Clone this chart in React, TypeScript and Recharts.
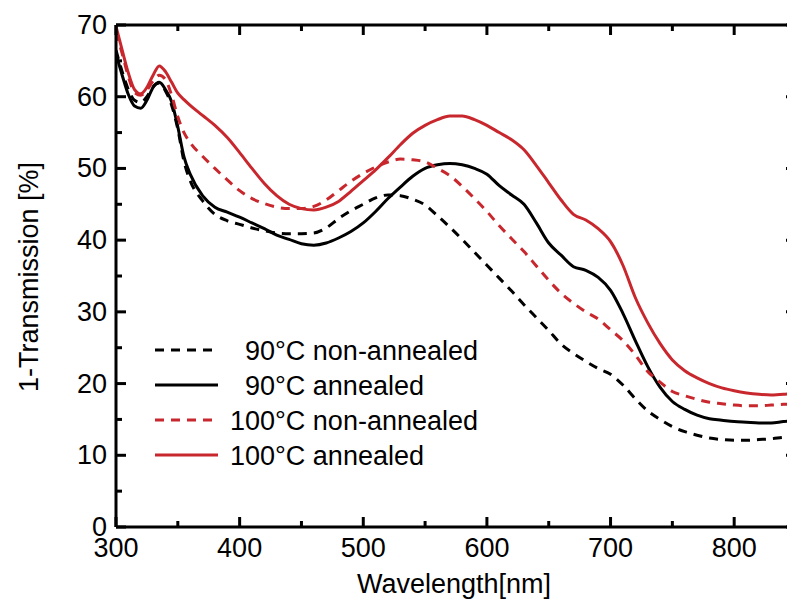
import React from 'react';
import { LineChart, Line, XAxis, YAxis, Legend } from 'recharts';

const FONT = "'Liberation Sans', Arial, sans-serif";
const RED = '#C8282D';

// wavelength grid (nm)
const wavelength = [
  300, 305, 310, 315, 320, 325, 330, 335, 340, 345, 350, 355,
  360, 370, 380, 390, 400, 410, 420, 430, 440, 450,
  460, 470, 480, 490, 500, 510, 520, 530, 540, 550,
  560, 570, 580, 590, 600, 610, 620, 630, 640, 650,
  660, 670, 680, 690, 700, 710, 720, 730, 740, 750,
  760, 770, 780, 790, 800, 810, 820, 830, 840, 850,
];

const nonAnnealed90 = [
  66.5, 63.5, 61.0, 59.5, 59.2, 60.0, 61.4, 61.9, 60.8, 58.8, 55.5, 51.0,
  48.3, 45.5, 43.6, 42.7, 42.2, 41.7, 41.3, 41.0, 40.9, 40.9,
  41.0, 41.7, 43.0, 44.1, 45.0, 45.9, 46.3, 46.2, 45.7, 44.9,
  43.4, 41.8, 40.1, 38.3, 36.5, 34.7, 32.9, 31.0, 29.2, 27.4,
  25.5, 24.2, 23.1, 22.1, 21.3, 19.8, 17.9, 16.2, 15.0, 14.0,
  13.3, 12.8, 12.4, 12.2, 12.1, 12.1, 12.2, 12.3, 12.5, 12.6,
];

const annealed90 = [
  66.0, 63.0, 60.3, 58.7, 58.4, 59.5, 61.3, 62.0, 61.0, 59.3, 55.8, 51.6,
  49.2, 46.2, 44.6, 43.9, 43.2, 42.4, 41.6, 40.7, 40.1, 39.5,
  39.3, 39.6, 40.3, 41.2, 42.4, 44.0, 45.8, 47.4, 48.9, 50.0,
  50.5, 50.7, 50.5, 50.0, 49.2, 47.6, 46.3, 45.0, 42.4, 39.6,
  37.9, 36.3, 35.8, 34.8, 33.0, 29.8, 26.0, 22.4, 19.5, 17.5,
  16.4, 15.6, 15.1, 14.9, 14.7, 14.6, 14.5, 14.5, 14.7, 14.8,
];

const nonAnnealed100 = [
  69.0, 66.0, 62.8, 60.6, 60.2, 60.9, 62.2, 63.0, 62.4, 60.2, 57.2, 55.0,
  53.6, 51.7, 50.0, 48.4, 46.9, 45.8, 45.1, 44.6, 44.4, 44.4,
  44.7, 45.6, 46.9, 48.2, 49.3, 50.2, 50.9, 51.3, 51.2, 50.9,
  50.0, 49.0, 47.5, 45.8, 44.0, 42.0, 40.2, 38.4, 36.4, 34.4,
  32.6, 31.2, 30.0, 29.0, 27.5, 26.0, 24.0, 21.7, 20.2, 18.9,
  18.3, 17.8, 17.4, 17.2, 17.0, 16.9, 16.9, 17.0, 17.1, 17.2,
];

const annealed100 = [
  69.8, 66.5, 63.3, 61.0, 60.4, 61.3, 63.0, 64.3, 63.5, 62.0, 60.5, 59.6,
  58.8, 57.4, 56.0, 54.3, 52.2, 50.0, 47.9, 46.2, 45.0, 44.4,
  44.2, 44.6, 45.4, 46.8, 48.3, 49.8, 51.5, 53.3, 54.9, 56.0,
  56.8, 57.3, 57.3, 56.8, 56.0, 55.0, 54.0, 52.6, 50.4, 48.0,
  45.6, 43.6, 42.8, 41.6, 39.8, 36.5, 32.0, 28.5, 25.6, 23.3,
  21.8, 20.8, 20.0, 19.4, 19.0, 18.7, 18.5, 18.4, 18.5, 18.7,
];

const xTicks = [300, 350, 400, 450, 500, 550, 600, 650, 700, 750, 800, 850];
const yTicks = [0, 5, 10, 15, 20, 25, 30, 35, 40, 45, 50, 55, 60, 65, 70];

const seriesInfo = [
  { key: 'na90', name: '90°C non-annealed', color: '#000', dash: '9 7', textX: 95 },
  { key: 'a90', name: '90°C annealed', color: '#000', dash: undefined, textX: 95 },
  { key: 'na100', name: '100°C non-annealed', color: RED, dash: '9 7', textX: 80 },
  { key: 'a100', name: '100°C annealed', color: RED, dash: undefined, textX: 80 },
];

const data = wavelength.map((w, i) => ({
  w,
  na90: nonAnnealed90[i],
  a90: annealed90[i],
  na100: nonAnnealed100[i],
  a100: annealed100[i],
}));

const BottomTick = (props: any) => {
  const { x, y, payload } = props;
  const major = payload.value % 100 === 0;
  return (
    <g>
      <line x1={x} x2={x} y1={y} y2={y - (major ? 10 : 6)} stroke="#000" strokeWidth={3} />
      {major && payload.value < 850 && (
        <text x={x} y={y + 30} textAnchor="middle" fontSize={27} fontFamily={FONT} fill="#000">
          {payload.value}
        </text>
      )}
    </g>
  );
};

const TopTick = (props: any) => {
  const { x, y, payload } = props;
  const major = payload.value % 100 === 0;
  return <line x1={x} x2={x} y1={y} y2={y + (major ? 10 : 6)} stroke="#000" strokeWidth={3} />;
};

const LeftTick = (props: any) => {
  const { x, y, payload } = props;
  const major = payload.value % 10 === 0;
  return (
    <g>
      <line x1={x} x2={x + (major ? 10 : 6)} y1={y} y2={y} stroke="#000" strokeWidth={3} />
      {major && (
        <text x={x - 9} y={y + 9} textAnchor="end" fontSize={27} fontFamily={FONT} fill="#000">
          {payload.value}
        </text>
      )}
    </g>
  );
};

const RightTick = (props: any) => {
  const { x, y, payload } = props;
  const major = payload.value % 10 === 0;
  return <line x1={x} x2={x - (major ? 10 : 6)} y1={y} y2={y} stroke="#000" strokeWidth={3} />;
};

const XTitle = () => (
  <text x={454} y={593} textAnchor="middle" fontSize={27} fontFamily={FONT} fill="#000">
    Wavelength[nm]
  </text>
);

const YTitle = () => (
  <text
    x={38}
    y={277}
    textAnchor="middle"
    fontSize={27}
    fontFamily={FONT}
    fill="#000"
    transform="rotate(-90 38 277)"
  >
    1-Transmission [%]
  </text>
);

const renderLegend = () => (
  <svg width={370} height={145}>
    {seriesInfo.map((s, i) => {
      const cy = 20 + i * 35;
      return (
        <g key={s.key}>
          <line x1={5} x2={68} y1={cy} y2={cy} stroke={s.color} strokeWidth={3} strokeDasharray={s.dash} />
          <text x={s.textX} y={cy + 10} fontSize={27} fontFamily={FONT} fill="#000">
            {s.name}
          </text>
        </g>
      );
    })}
  </svg>
);

const App = () => {
  return (
    <div style={{ position: 'fixed', left: 0, top: 0, width: 787, height: 613, overflow: 'hidden', background: '#fff' }}>
      <LineChart width={800} height={613} data={data} margin={{ top: 24, right: 3, left: 0, bottom: 0 }}>
        <XAxis
          dataKey="w"
          type="number"
          domain={[300, 850]}
          ticks={xTicks}
          allowDataOverflow
          height={86}
          tickSize={0}
          tickMargin={0}
          axisLine={{ stroke: '#000', strokeWidth: 3 }}
          tickLine={false}
          tick={<BottomTick />}
          interval={0}
          label={<XTitle />}
        />
        <XAxis
          xAxisId="top"
          orientation="top"
          dataKey="w"
          type="number"
          domain={[300, 850]}
          ticks={xTicks}
          allowDataOverflow
          height={1}
          tickSize={0}
          tickMargin={0}
          axisLine={{ stroke: '#000', strokeWidth: 3 }}
          tickLine={false}
          tick={<TopTick />}
          interval={0}
        />
        <YAxis
          type="number"
          domain={[0, 70]}
          ticks={yTicks}
          allowDataOverflow
          width={116}
          tickSize={0}
          tickMargin={0}
          axisLine={{ stroke: '#000', strokeWidth: 3 }}
          tickLine={false}
          tick={<LeftTick />}
          interval={0}
          label={<YTitle />}
        />
        <YAxis
          yAxisId="right"
          orientation="right"
          type="number"
          domain={[0, 70]}
          ticks={yTicks}
          allowDataOverflow
          width={1}
          tickSize={0}
          tickMargin={0}
          axisLine={{ stroke: '#000', strokeWidth: 3 }}
          tickLine={false}
          tick={<RightTick />}
          interval={0}
        />
        <Legend
          layout="vertical"
          align="center"
          verticalAlign="middle"
          content={renderLegend}
          wrapperStyle={{ left: 150, top: 330, width: 370, height: 145 }}
        />
        {seriesInfo.map((s) => (
          <Line
            key={s.key}
            type="monotone"
            dataKey={s.key}
            name={s.name}
            stroke={s.color}
            strokeWidth={3}
            strokeDasharray={s.dash}
            dot={false}
            isAnimationActive={false}
          />
        ))}
      </LineChart>
    </div>
  );
};

export default App;
